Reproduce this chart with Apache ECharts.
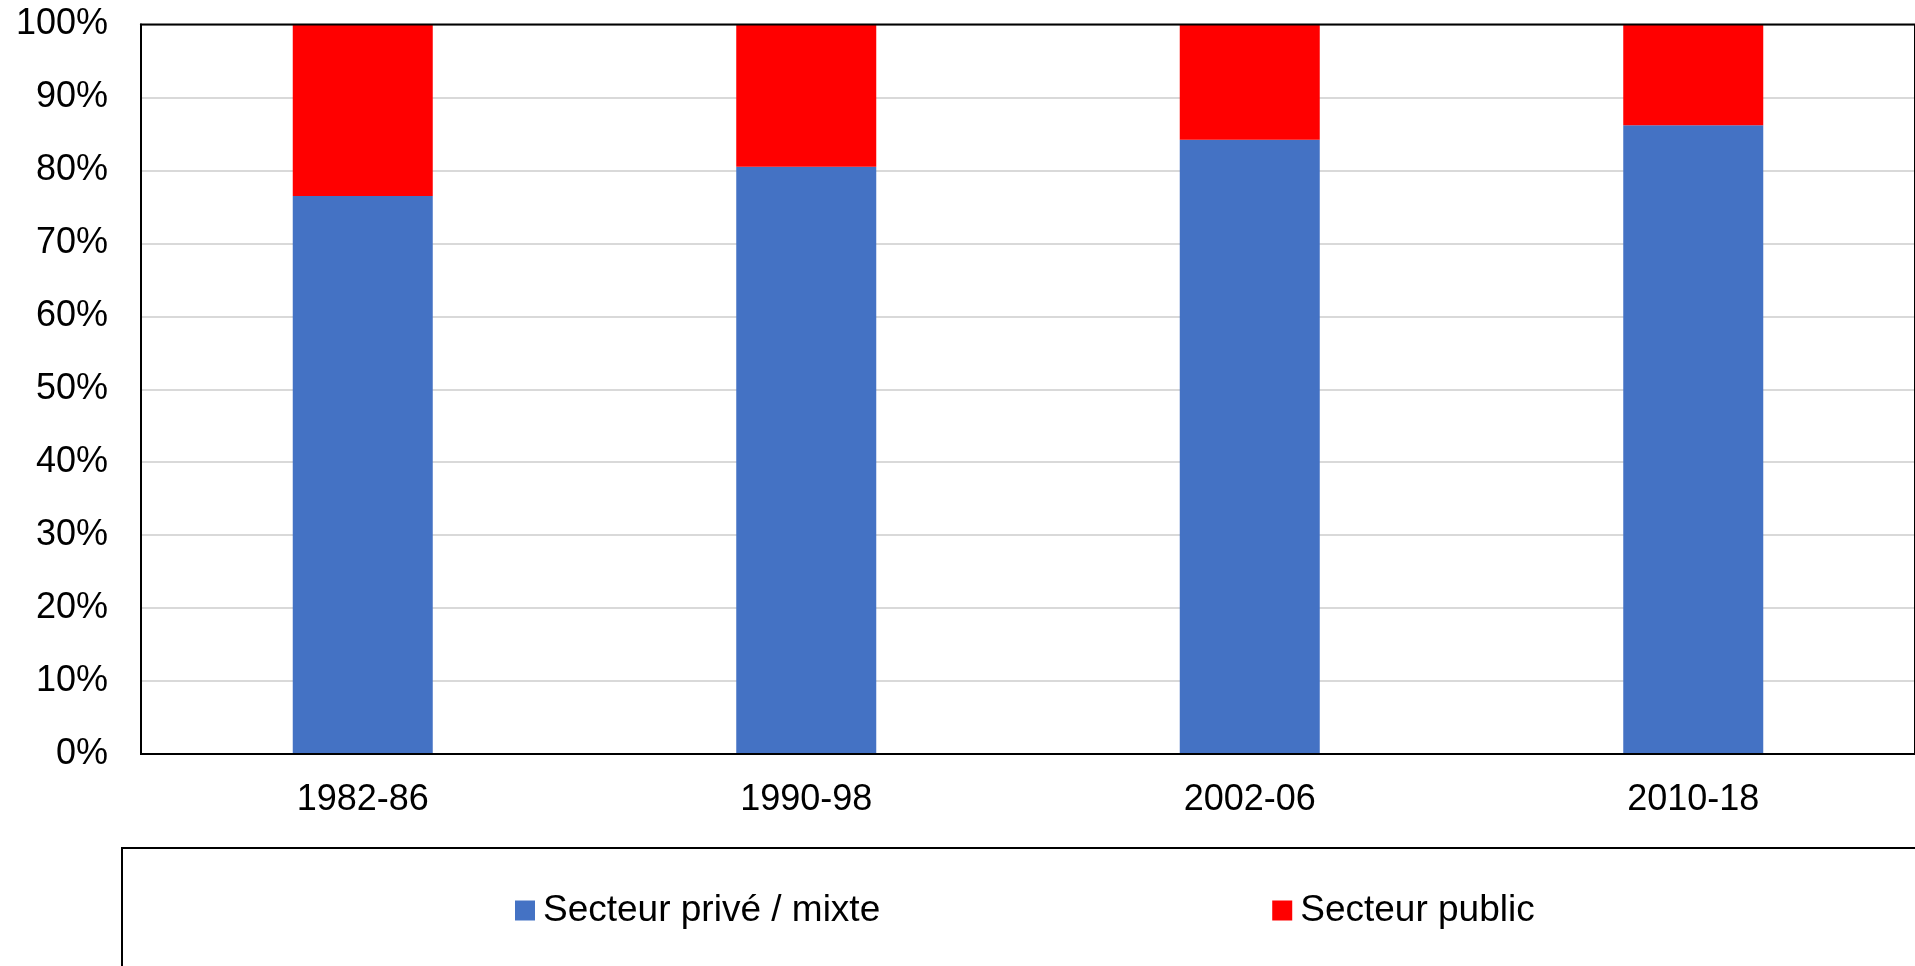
<!DOCTYPE html>
<html>
<head>
<meta charset="utf-8">
<script src="https://cdn.jsdelivr.net/npm/echarts@6/dist/echarts.min.js"></script>
<style>
html,body{margin:0;padding:0;background:#fff;}
#c{width:1915px;height:966px;}
</style>
</head>
<body>
<div id="c"></div>
<script>
const categories = ['1982-86', '1990-98', '2002-06', '2010-18'];
const privateMixed = [76.5, 80.5, 84.2, 86.2];
const publicSector = [23.5, 19.5, 15.8, 13.8];
const seriesNames = ['Secteur privé / mixte', 'Secteur public'];

const chart = echarts.init(document.getElementById('c'));
const font = 'Liberation Sans, Arial, sans-serif';
chart.setOption({
  animation: false,
  textStyle: { fontFamily: font },
  grid: {
    left: 141, top: 24.5, width: 1776, height: 729.5,
    show: true, borderColor: '#000', borderWidth: 2, backgroundColor: 'transparent', z: 5
  },
  graphic: [{
    type: 'rect',
    shape: { x: 122, y: 848, width: 1900, height: 200 },
    style: { fill: 'none', stroke: '#000', lineWidth: 2 },
    z: 0
  }],
  legend: {
    left: 515, top: 892, padding: 0,
    itemWidth: 20, itemHeight: 20, itemGap: 392,
    icon: 'rect',
    textStyle: { fontSize: 37, color: '#000', fontFamily: font, padding: [0, 0, 0, 3] },
    data: seriesNames
  },
  xAxis: {
    type: 'category',
    data: categories,
    axisLine: { lineStyle: { color: '#000', width: 2 } },
    axisTick: { show: false },
    axisLabel: { fontSize: 36, color: '#000', margin: 28, fontFamily: font }
  },
  yAxis: {
    type: 'value',
    min: 0, max: 100, interval: 10,
    axisLine: { show: true, lineStyle: { color: '#000', width: 2 } },
    axisTick: { show: false },
    splitLine: { lineStyle: { color: '#d9d9d9', width: 2 } },
    axisLabel: { fontSize: 36, color: '#000', margin: 33, formatter: '{value}%', fontFamily: font }
  },
  series: [
    { name: seriesNames[0], type: 'bar', stack: 's', data: privateMixed, barWidth: 140,
      itemStyle: { color: '#4472c4' } },
    { name: seriesNames[1], type: 'bar', stack: 's', data: publicSector, barWidth: 140,
      itemStyle: { color: '#ff0000' } }
  ]
});
</script>
</body>
</html>
